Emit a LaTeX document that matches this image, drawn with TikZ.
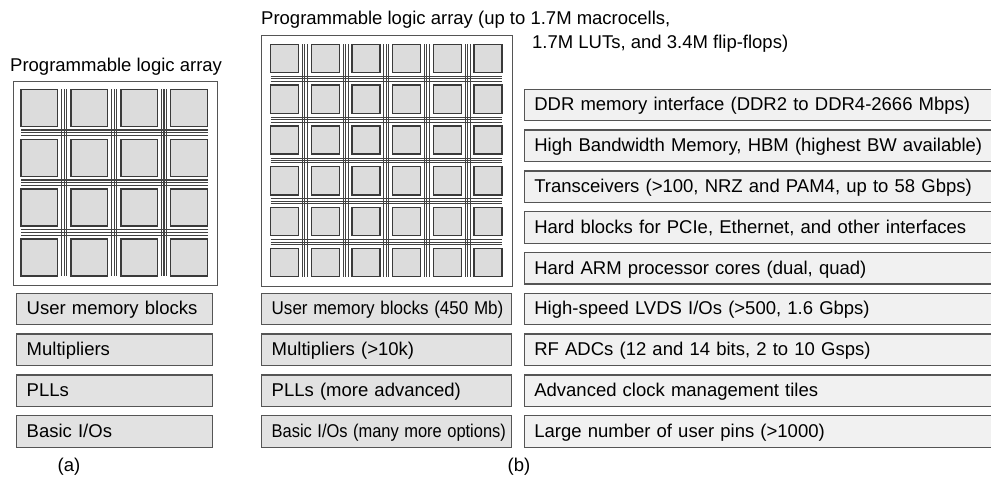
\documentclass[tikz,border=0pt]{standalone}
\usepackage{fontspec}
\setmainfont{Liberation Sans}
\definecolor{cellfill}{HTML}{DCDCDC}
\definecolor{cellline}{HTML}{3A3A3A}
\definecolor{busline}{HTML}{424242}
\definecolor{boxfillA}{HTML}{E2E2E2}
\definecolor{boxfillB}{HTML}{F1F1F1}
\definecolor{boxline}{HTML}{555555}
\begin{document}
\begin{tikzpicture}[x=1pt,y=-1pt,
  every node/.style={font=\fontsize{18.5}{22}\selectfont},
  outerbox/.style={draw=boxline, line width=1.3pt},
  cellbox/.style={draw=cellline, fill=cellfill, line width=1.4pt, inner sep=0pt, outer sep=0pt, anchor=north west},
  bus/.style={draw=busline, line width=1.15pt},
  featbox/.style={draw=boxline, line width=1.3pt, inner xsep=10pt, inner ysep=0pt, outer sep=0pt,
     minimum height=31.5pt, text height=13pt, text depth=1.5pt, align=left, anchor=north west},
  boxA/.style={featbox, fill=boxfillA},
  boxB/.style={featbox, fill=boxfillB},
  titletext/.style={anchor=base west, inner sep=0pt}
]
\useasboundingbox (0,0) rectangle (991,479);
\clip (0,0) rectangle (991,479);

% ---------- (a) programmable logic array ----------
\node[titletext] (titleA) at (10,71) {Programmable logic array};
\node[outerbox, inner sep=0pt, minimum width=204pt, minimum height=204pt, anchor=north west] (arrA) at (13,81) {};
\foreach \k in {0,1,2} {
  \pgfmathsetmacro{\gx}{21+36.5+6.7+49.9*\k}
  \pgfmathsetmacro{\gy}{89.3+37+6.45+49.9*\k}
  \foreach \d in {-2.7,0,2.7} {
    \draw[bus] ({\gx+\d},89.3) -- ({\gx+\d},276.3);
    \draw[bus] (21,{\gy+\d}) -- (207.7,{\gy+\d});
  }
}
\foreach \i in {0,...,3} {
  \foreach \j in {0,...,3} {
    \node[cellbox, minimum width=36.5pt, minimum height=37pt] (A-\i-\j) at ({21+49.9*\i},{89.3+49.9*\j}) {};
  }
}

% ---------- (b) programmable logic array ----------
\node[titletext] (titleB1) at (261,24.5) {Programmable logic array (up to 1.7M macrocells,};
\node[titletext] (titleB2) at (532,48.5) {1.7M LUTs, and 3.4M flip-flops)};
\node[outerbox, inner sep=0pt, minimum width=251pt, minimum height=251pt, anchor=north west] (arrB) at (261,35) {};
\foreach \k in {0,...,4} {
  \pgfmathsetmacro{\gx}{270.7+27.9+6.38+40.66*\k}
  \pgfmathsetmacro{\gy}{44.3+28.2+6.3+40.8*\k}
  \foreach \d in {-2.4,0,2.4} {
    \draw[bus, line width=1pt] ({\gx+\d},44.3) -- ({\gx+\d},276.5);
    \draw[bus, line width=1pt] (270.7,{\gy+\d}) -- (502.2,{\gy+\d});
  }
}
\foreach \i in {0,...,5} {
  \foreach \j in {0,...,5} {
    \node[cellbox, minimum width=27.9pt, minimum height=28.2pt] (B-\i-\j) at ({270.7+40.66*\i},{44.3+40.8*\j}) {};
  }
}

% ---------- left column boxes (a) ----------
\node[boxA, minimum width=195.6pt, text width=175.6pt] (a1) at (16.7,293.3) {User memory blocks};
\node[boxA, minimum width=195.6pt, text width=175.6pt] (a2) at (16.7,334.1) {Multipliers};
\node[boxA, minimum width=195.6pt, text width=175.6pt] (a3) at (16.7,374.9) {PLLs};
\node[boxA, minimum width=195.6pt, text width=175.6pt] (a4) at (16.7,415.7) {Basic I/Os};

% ---------- middle column boxes (b) ----------
\node[boxA, minimum width=250pt, text width=230pt] (b1) at (261.7,293.3) {\scalebox{0.92}[1]{User memory blocks (450 Mb)}};
\node[boxA, minimum width=250pt, text width=230pt] (b2) at (261.7,334.1) {Multipliers (>10k)};
\node[boxA, minimum width=250pt, text width=230pt] (b3) at (261.7,374.9) {PLLs (more advanced)};
\node[boxA, minimum width=250pt, text width=230pt] (b4) at (261.7,415.7) {\scalebox{0.89}[1]{Basic I/Os (many more options)}};

% ---------- right column boxes (b) ----------
\foreach \t [count=\n from 0] in {
  {DDR memory interface (DDR2 to DDR4-2666 Mbps)},
  {High Bandwidth Memory, HBM (highest BW available)},
  {Transceivers (>100, NRZ and PAM4, up to 58 Gbps)},
  {Hard blocks for PCIe, Ethernet, and other interfaces},
  {Hard ARM processor cores (dual, quad)},
  {High-speed LVDS I/Os (>500, 1.6 Gbps)},
  {RF ADCs (12 and 14 bits, 2 to 10 Gsps)},
  {Advanced clock management tiles},
  {Large number of user pins (>1000)}} {
  \node[boxB, minimum width=480pt, text width=460pt] (r\n) at (524.3,{89.3+40.8*\n}) {\t};
}

% ---------- captions ----------
\node[anchor=base, inner sep=0pt] (capA) at (69,471) {(a)};
\node[anchor=base, inner sep=0pt] (capB) at (519,471) {(b)};
\end{tikzpicture}
\end{document}
